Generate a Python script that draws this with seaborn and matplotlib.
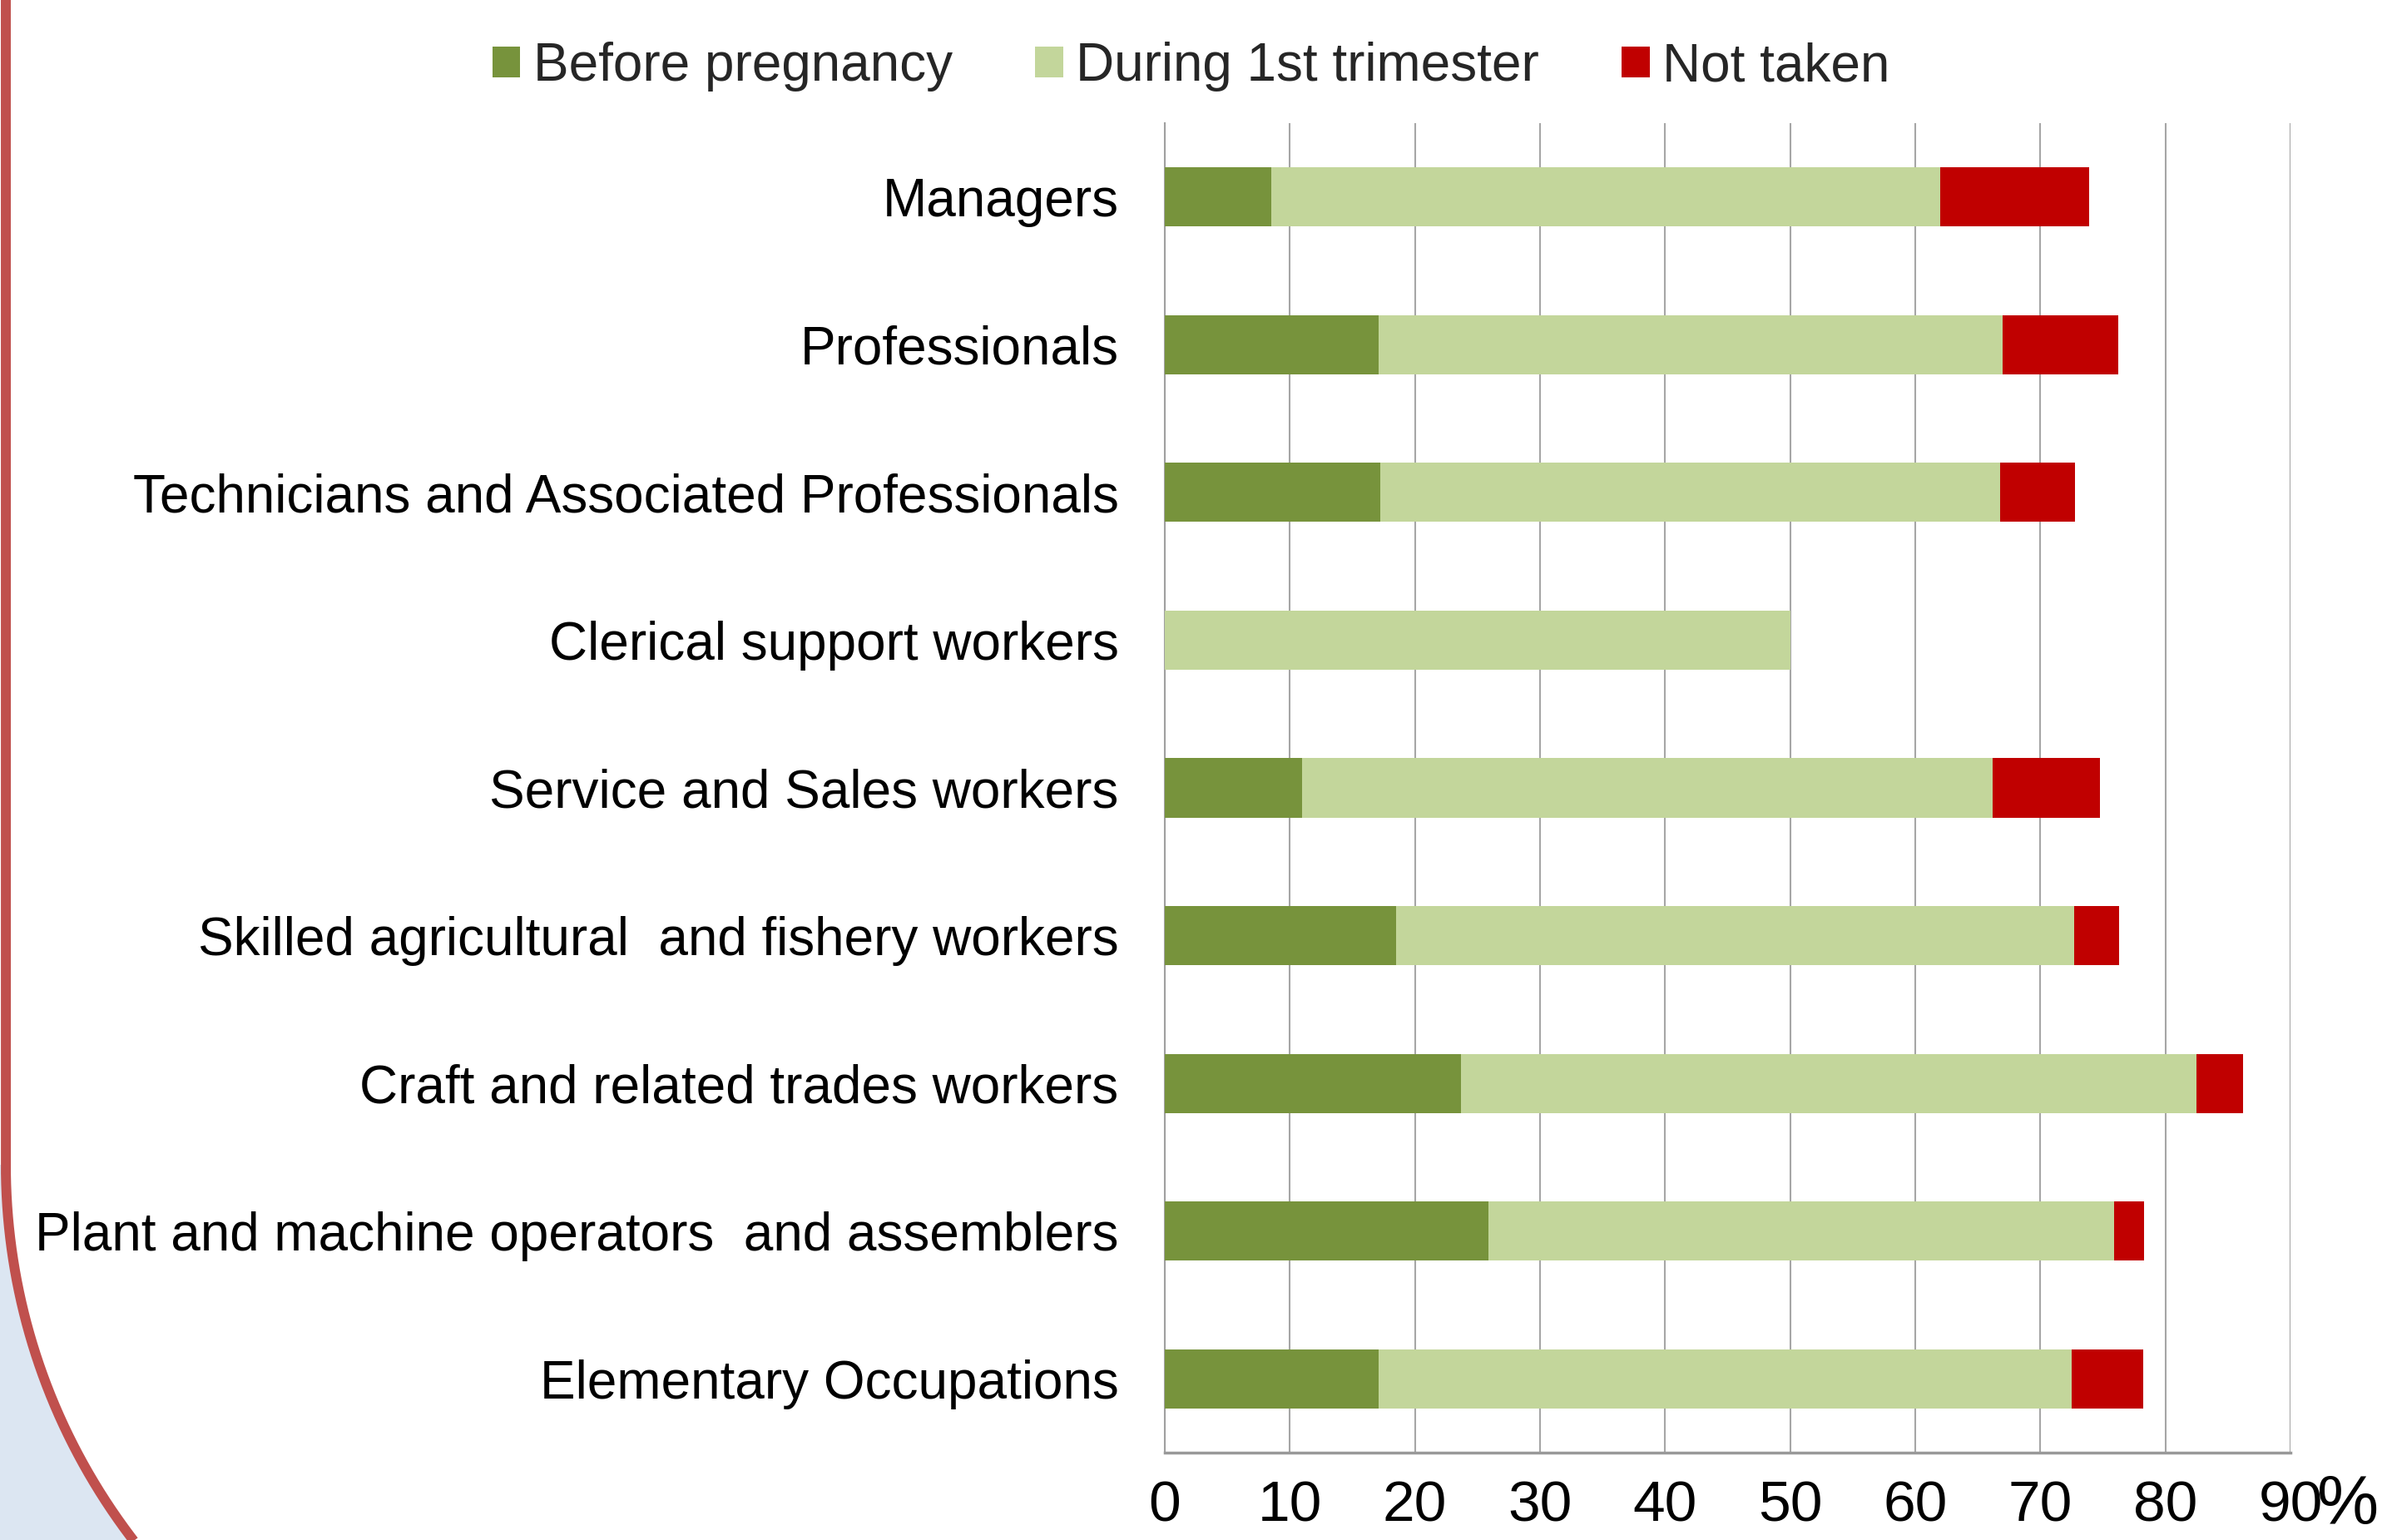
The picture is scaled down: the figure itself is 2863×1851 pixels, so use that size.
import numpy as np
import pandas as pd
import matplotlib
matplotlib.use("Agg")
import matplotlib.pyplot as plt
import seaborn as sns
from matplotlib.patches import Patch, Polygon
from matplotlib.lines import Line2D

# ---------------- data ----------------
categories = [
    "Managers",
    "Professionals",
    "Technicians and Associated Professionals",
    "Clerical support workers",
    "Service and Sales workers",
    "Skilled agricultural  and fishery workers",
    "Craft and related trades workers",
    "Plant and machine operators  and assemblers",
    "Elementary Occupations",
]
before_pregnancy = [8.5, 17.1, 17.2, 0.0, 11.0, 18.5, 23.7, 25.9, 17.1]
during_1st_trimester = [53.5, 49.9, 49.6, 50.0, 55.2, 54.2, 58.8, 50.0, 55.4]
not_taken = [11.9, 9.2, 6.0, 0.0, 8.6, 3.6, 3.7, 2.4, 5.7]
series_names = ["Before pregnancy", "During 1st trimester", "Not taken"]
x_ticks = [0, 10, 20, 30, 40, 50, 60, 70, 80, 90]

colors = ["#77933C", "#C3D69B", "#C00000"]

df = pd.DataFrame({
    "category": categories,
    "before": before_pregnancy,
    "during": during_1st_trimester,
    "not_taken": not_taken,
})
df["cum1"] = df["before"]
df["cum2"] = df["cum1"] + df["during"]
df["cum3"] = df["cum2"] + df["not_taken"]

# ---------------- style ----------------
sns.set_theme(style="white")
plt.rcParams["font.family"] = ["Liberation Sans", "DejaVu Sans"]
narrow = ["Liberation Sans Narrow", "Liberation Sans", "DejaVu Sans"]

W, H = 2863, 1851
fig = plt.figure(figsize=(W / 100, H / 100), dpi=100)
fig.patch.set_facecolor("white")

# decorative left border (slide background)
t = np.linspace(0, 0.70, 200)
cx, cy, R = 748.0, 1400.0, 741.0
arc_x = cx - R * np.cos(t)
arc_y = cy + R * np.sin(t)
px = np.concatenate([[7.0], arc_x])
py = np.concatenate([[-20.0], arc_y])
fill_x = np.concatenate([[0.0], arc_x, [0.0]])
fill_y = np.concatenate([[cy], arc_y, [arc_y[-1]]])
fig.add_artist(Polygon(np.column_stack([fill_x / W, 1 - fill_y / H]),
                       closed=True, facecolor="#DCE6F2", edgecolor="none",
                       transform=fig.transFigure, zorder=0))
fig.add_artist(Line2D(px / W, 1 - py / H, color="#C0504D", lw=8.6,
                      transform=fig.transFigure, zorder=1,
                      solid_capstyle="butt"))

ax = fig.add_axes([1400 / W, 1 - 1746 / H, (2753 - 1400) / W, (1746 - 148) / H])
ax.set_facecolor("none")

# stacked bars (draw totals first, then overlay)
sns.barplot(data=df, x="cum3", y="category", order=categories, orient="h",
            color=colors[2], saturation=1, width=0.4, linewidth=0, ax=ax, zorder=3)
sns.barplot(data=df, x="cum2", y="category", order=categories, orient="h",
            color=colors[1], saturation=1, width=0.4, linewidth=0, ax=ax, zorder=3)
sns.barplot(data=df, x="cum1", y="category", order=categories, orient="h",
            color=colors[0], saturation=1, width=0.4, linewidth=0, ax=ax, zorder=3)

ax.set_xlim(0, 90)
ax.set_ylim(len(categories) - 0.5, -0.5)
ax.set_xlabel("")
ax.set_ylabel("")
ax.set_xticks(x_ticks)
ax.set_xticklabels([str(v) for v in x_ticks])

ax.grid(axis="x", color="#A6A6A6", lw=1.5, zorder=0)
ax.grid(axis="y", visible=False)
ax.set_axisbelow(True)

for s in ["top", "right"]:
    ax.spines[s].set_visible(False)
ax.spines["left"].set_color("#A0A0A0")
ax.spines["left"].set_linewidth(1.5)
ax.spines["bottom"].set_color("#999999")
ax.spines["bottom"].set_linewidth(2.5)

ax.tick_params(axis="y", which="major", length=0, pad=40, labelsize=46, labelcolor="black")
ax.set_yticks(np.arange(-0.5, len(categories), 1.0), minor=True)
ax.tick_params(axis="y", which="minor", length=13, width=2, color="#A0A0A0", direction="out")
ax.tick_params(axis="x", which="major", length=11.5, width=1.5, color="#A0A0A0",
               direction="out", pad=12, labelsize=50, labelcolor="black")
for lbl in ax.get_xticklabels():
    lbl.set_fontfamily(narrow)

fig.text(2822 / W, 1 - 1810 / H, "%", ha="center", va="center", fontsize=60,
         family=narrow, color="black")

handles = [Patch(facecolor=c, edgecolor="none") for c in colors]
fig.legend(handles, series_names, loc="center", bbox_to_anchor=(0.5, 1 - 80 / H),
           ncol=3, frameon=False, fontsize=46, handlelength=0.53, handleheight=0.53,
           handletextpad=0.24, columnspacing=1.55, borderpad=0)

fig.savefig("out.png", dpi=100, facecolor="white")
